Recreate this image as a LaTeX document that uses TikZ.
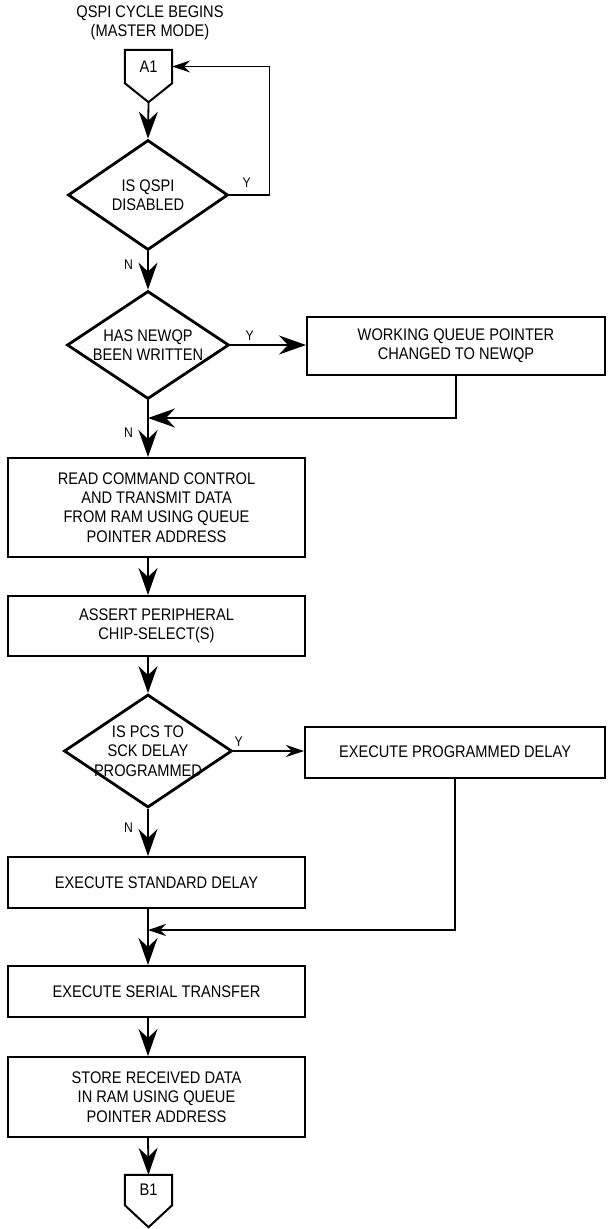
\documentclass[tikz,border=0pt]{standalone}
\usepackage{fontspec}
\usepackage{tikz}
\usetikzlibrary{
    arrows.meta,
    positioning,
    shapes.geometric
}
\newfontfamily\chartfont{Liberation Sans}[FakeStretch=0.87]
\newcommand{\chartbig}{\chartfont\fontsize{16.8}{19.3}\selectfont}
\newcommand{\chartsmall}{\chartfont\fontsize{14}{16}\selectfont}
\tikzset{
  block/.style    = {draw, line width=2pt, minimum width=297pt,
                     inner sep=0pt, align=center, font=\chartbig},
  decision/.style = {draw, diamond, line width=2.8pt, aspect=1.5,
                     inner sep=-6pt, align=center, font=\chartbig},
  offpage/.style  = {minimum width=47pt, inner sep=0pt, font=\chartbig},
  lbl/.style      = {inner sep=0pt, font=\chartsmall},
  arr/.style      = {-{Stealth[length=27pt, width=19pt, inset=9pt]},
                     line width=1.8pt},
  arrs/.style     = {-{Stealth[length=18pt, width=12pt, inset=6pt]},
                     line width=1.6pt}
}

\begin{document}
\begin{tikzpicture}[x=1pt, y=-1pt]

\path[fill=white] (0,0) rectangle (610,1229);

%% --- Entry ---
\node[align=center, font=\chartbig] (TT) at (150,23) {%
  QSPI CYCLE BEGINS\\(MASTER MODE)};

\node[offpage, minimum height=33pt] (A1) at (148.5,66.5) {A1};
\draw[line width=2pt]
  (A1.north west) -- (A1.north east) -- (A1.south east)
  -- ([yshift=-19pt]A1.south) coordinate (A1tip)
  -- (A1.south west) -- cycle;

%% --- Decisions ---
\node[decision, minimum width=160pt, minimum height=110pt] (Q1)
  at (148,195) {IS QSPI\\DISABLED};

\node[decision, minimum width=162pt, minimum height=108pt] (Q2)
  at (148,345) {HAS NEWQP\\BEEN WRITTEN};

\node[decision, minimum width=168pt, minimum height=113pt] (Q3)
  at (148,751) {IS PCS TO\\SCK DELAY\\PROGRAMMED};

%% --- Side boxes ---
\node[block, minimum width=298pt, minimum height=58pt] (WQP)
  at (456,346) {WORKING QUEUE POINTER\\CHANGED TO NEWQP};

\node[block, minimum width=300pt, minimum height=51pt] (PD)
  at (455,752) {EXECUTE PROGRAMMED DELAY};

%% --- Main column ---
\node[block, minimum height=99pt] (RD) at (156.5,507.5) {%
  READ COMMAND CONTROL\\
  AND TRANSMIT DATA\\
  FROM RAM USING QUEUE\\
  POINTER ADDRESS};

\node[block, minimum height=60pt] (CS) at (156.5,626) {%
  ASSERT PERIPHERAL\\CHIP-SELECT(S)};

\node[block, minimum height=51pt] (SD) at (156.5,882.5) {%
  EXECUTE STANDARD DELAY};

\node[block, minimum height=51pt] (XF) at (156.5,991.5) {%
  EXECUTE SERIAL TRANSFER};

\node[block, minimum height=80pt] (ST) at (156.5,1097) {%
  STORE RECEIVED DATA\\
  IN RAM USING QUEUE\\
  POINTER ADDRESS};

%% --- Exit ---
\node[offpage, minimum height=30pt] (B1) at (148.5,1190) {B1};
\draw[line width=2pt]
  (B1.north west) -- (B1.north east) -- (B1.south east)
  -- ([yshift=-22pt]B1.south)
  -- (B1.south west) -- cycle;

%% --- Joins ---
\coordinate (J1) at (148,418);
\coordinate (J2) at (148,930);

%% --- Arrows ---
\draw[arr]  (A1tip) -- (Q1.north);
\draw[arrs] (Q1.east) -- ++(40pt,0) |- (A1.east);
\draw[arr]  (Q1.south) -- (Q2.north);
\draw[arr]  (Q2.east) -- (Q2.east -| WQP.west);
\draw[arr]  (WQP.south) |- (J1);
\draw[arr]  (Q2.south) -- (RD.north -| Q2);
\draw[arr]  (RD.south -| Q2) -- (CS.north -| Q2);
\draw[arr]  (CS.south -| Q3) -- (Q3.north);
\draw[arrs] (Q3.east) -- (Q3.east -| PD.west);
\draw[arr]  (Q3.south) -- (SD.north -| Q3);
\draw[arrs] (PD.south) |- (J2);
\draw[arr]  (SD.south -| Q3) -- (XF.north -| Q3);
\draw[arr]  (XF.south -| Q3) -- (ST.north -| Q3);
\draw[arr]  (ST.south -| Q3) -- (B1.north);

%% --- Y / N labels ---
\node[lbl, above right=7pt and 13pt of Q1.east] (Y1) {Y};
\node[lbl, below left=8pt and 15pt of Q1.south] (N1) {N};
\node[lbl, above right=4pt and 15pt of Q2.east] (Y2) {Y};
\node[lbl, below left=10pt and 15pt of J1] (N2) {N};
\node[lbl, above right=4pt and 1pt of Q3.east] (Y3) {Y};
\node[lbl, below left=14pt and 15pt of Q3.south] (N3) {N};

\end{tikzpicture}
\end{document}
